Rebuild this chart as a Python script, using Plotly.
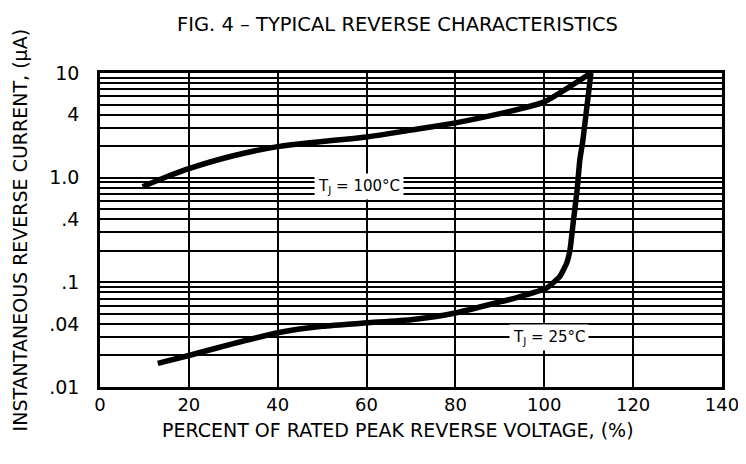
import math
import plotly.graph_objects as go

# Data (percent of rated PRV, current in microamps)
pct_100 = [9.6, 15, 20, 30, 40, 50, 60, 70, 80, 89, 95, 100, 105.5, 110.5]
cur_100 = [0.82, 1.02, 1.22, 1.62, 1.98, 2.22, 2.45, 2.85, 3.34, 4.0, 4.6, 5.3, 7.3, 10]

pct_25 = [13, 20, 30, 40, 50, 60, 70, 80, 90, 95, 100.5, 103.5, 105.1, 105.8, 106.5, 107.4, 108.0, 108.7, 110.5]
cur_25 = [0.0168, 0.020, 0.026, 0.033, 0.038, 0.041, 0.044, 0.051, 0.065, 0.074, 0.088, 0.114, 0.155, 0.206, 0.37, 0.77, 1.48, 2.3, 10]

x_ticks = [0, 20, 40, 60, 80, 100, 120, 140]
y_labeled = {0.01: ".01", 0.04: ".04", 0.1: ".1", 0.4: ".4", 1: "1.0", 4: "4", 10: "10"}

# horizontal gridline values: 1..9 in every decade
y_grid = []
for d in [0.01, 0.1, 1]:
    for m in range(1, 10):
        y_grid.append(round(m * d, 4))
y_grid.append(10)
y_text = [y_labeled.get(v, "") for v in y_grid]

labels = [("T<sub>J</sub> = 100°C", 58.3, 0.815), ("T<sub>J</sub> = 25°C", 101, 0.0295)]

font = "DejaVu Sans, Liberation Sans, sans-serif"

fig = go.Figure()
for xs, ys, sm in [(pct_100, cur_100, 0.9), (pct_25, cur_25, 0.5)]:
    fig.add_trace(go.Scatter(x=xs, y=ys, mode="lines",
                             line=dict(color="black", width=5.5, shape="spline", smoothing=sm),
                             showlegend=False, hoverinfo="skip"))

for txt, lx, ly in labels:
    fig.add_annotation(x=lx, y=math.log10(ly), text=txt, showarrow=False, bgcolor="white",
                       borderpad=3, font=dict(family=font, size=15, color="black"))

fig.add_annotation(xref="paper", yref="paper", x=0.479, y=1.153, text="FIG. 4 – TYPICAL REVERSE CHARACTERISTICS",
                   showarrow=False, xanchor="center", yanchor="middle",
                   font=dict(family=font, size=19.5, color="black"))
fig.add_annotation(xref="paper", yref="paper", x=0.479, y=-0.136, text="PERCENT OF RATED PEAK REVERSE VOLTAGE, (%)",
                   showarrow=False, xanchor="center", yanchor="middle",
                   font=dict(family=font, size=19, color="black"))
fig.add_annotation(xref="paper", yref="paper", x=-0.128, y=0.5, text="INSTANTANEOUS REVERSE CURRENT, (μA)",
                   showarrow=False, xanchor="center", yanchor="middle", textangle=-90,
                   font=dict(family=font, size=19, color="black"))

# page body has an 8px margin, so the figure is 8px smaller and margins shifted
fig.update_layout(
    width=738, height=456,
    margin=dict(l=92, r=24, t=65, b=77),
    paper_bgcolor="white", plot_bgcolor="white",
    font=dict(family=font, color="black"),
)
fig.update_xaxes(range=[0, 140], tickvals=x_ticks, showgrid=True, gridcolor="black", gridwidth=2,
                 zeroline=False, showline=True, linecolor="black", linewidth=2.5, mirror=True,
                 ticks="", ticklabelstandoff=0, tickfont=dict(size=18), automargin=False)
fig.update_yaxes(type="log", range=[-2, 1], tickvals=y_grid, ticktext=y_text, showgrid=True,
                 gridcolor="black", gridwidth=2, zeroline=False, showline=True, linecolor="black",
                 linewidth=2.5, mirror=True, ticks="", ticklabelstandoff=14, tickfont=dict(size=19),
                 automargin=False)

fig.write_html("out.html")
